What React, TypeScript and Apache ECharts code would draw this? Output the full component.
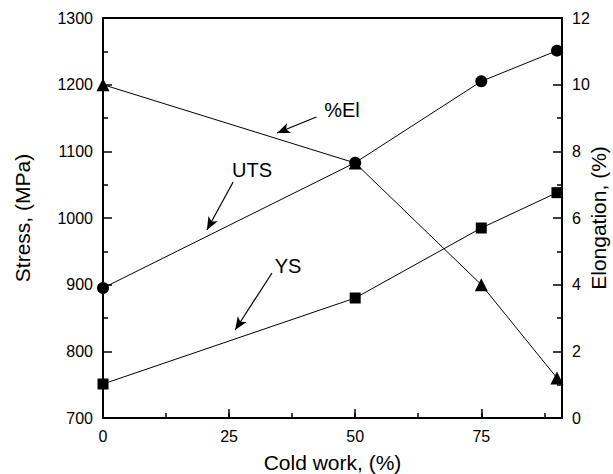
import React, { useEffect, useRef } from "react";
import * as echarts from "echarts";

const coldWork = [0, 50, 75, 90];
const utsValues = [895, 1083, 1205, 1251];
const ysValues = [751, 880, 985, 1038];
const elongationValues = [10, 7.65, 4, 1.2];

const xTicks = [0, 25, 50, 75];

const FONT = "'Liberation Sans', Arial, sans-serif";

export default function App() {
  const ref = useRef<HTMLDivElement>(null);
  useEffect(() => {
    if (!ref.current) return;
    const chart = echarts.init(ref.current, undefined, { renderer: "svg" });
    const pair = (vals: number[]) => coldWork.map((x, i) => [x, vals[i]]);
    const lineStyle = { color: "#000", width: 1 };
    const majorTick = { show: true, inside: true, length: 9, lineStyle: { color: "#000", width: 1.5 } };
    const minorTick = { show: true, splitNumber: 2, length: 5, lineStyle: { color: "#000", width: 1.5 } };
    const arrowLine = (a: number[], b: number[]) => [
      { coord: a, symbol: "none" },
      { coord: b, symbol: "arrow", symbolSize: [8, 13] },
    ];
    chart.setOption({
      animation: false,
      backgroundColor: "#fff",
      grid: {
        left: 103,
        right: 51,
        top: 18,
        bottom: 56,
        outerBoundsMode: "none",
        containLabel: false,
        show: true,
        borderColor: "#000",
        borderWidth: 2,
        backgroundColor: "transparent",
      },
      xAxis: [
        {
          type: "value",
          min: 0,
          max: 91,
          interval: 25,
          name: "Cold work, (%)",
          nameLocation: "middle",
          nameGap: 34,
          nameMoveOverlap: false,
          nameTextStyle: { fontFamily: FONT, fontSize: 21, color: "#000" },
          axisLine: { show: true, onZero: false, lineStyle: { color: "#000", width: 2 } },
          axisTick: majorTick,
          axisLabel: {
            fontFamily: FONT,
            fontSize: 16,
            color: "#000",
            margin: 10,
            showMaxLabel: false,
            formatter: (v: number) => (xTicks.includes(v) ? String(v) : ""),
          },
          splitLine: { show: false },
        },
        {
          type: "value",
          min: 0,
          max: 91,
          interval: 12.5,
          position: "bottom",
          axisLine: { show: false, onZero: false },
          axisTick: { show: true, inside: true, length: 5, lineStyle: { color: "#000", width: 1.5 } },
          axisLabel: { show: false },
          splitLine: { show: false },
        },
      ],
      yAxis: [
        {
          type: "value",
          min: 700,
          max: 1300,
          interval: 100,
          name: "Stress, (MPa)",
          nameLocation: "middle",
          nameGap: 70,
          nameMoveOverlap: false,
          nameTextStyle: { fontFamily: FONT, fontSize: 21, color: "#000" },
          axisLine: { show: true, onZero: false, lineStyle: { color: "#000", width: 2 } },
          axisTick: majorTick,
          minorTick,
          axisLabel: {
            fontFamily: FONT,
            fontSize: 16,
            color: "#000",
            margin: 10,
            formatter: (v: number) => String(v),
          },
          splitLine: { show: false },
          minorSplitLine: { show: false },
        },
        {
          type: "value",
          min: 0,
          max: 12,
          interval: 2,
          position: "right",
          name: "Elongation, (%)",
          nameLocation: "middle",
          nameGap: 26,
          nameMoveOverlap: false,
          nameRotate: 90,
          nameTextStyle: { fontFamily: FONT, fontSize: 21, color: "#000" },
          axisLine: { show: true, onZero: false, lineStyle: { color: "#000", width: 2 } },
          axisTick: majorTick,
          minorTick,
          axisLabel: {
            fontFamily: FONT,
            fontSize: 16,
            color: "#000",
            margin: 10,
            formatter: (v: number) => String(v),
          },
          splitLine: { show: false },
          minorSplitLine: { show: false },
        },
      ],
      series: [
        {
          name: "UTS",
          type: "line",
          yAxisIndex: 0,
          data: pair(utsValues),
          symbol: "circle",
          symbolSize: 12,
          itemStyle: { color: "#000" },
          lineStyle,
          z: 3,
          markLine: {
            silent: true,
            label: { show: false },
            lineStyle: { color: "#000", width: 1.2, type: "solid" },
            data: [
              arrowLine([42.3, 1151.5], [34.5, 1127.5]),
              arrowLine([25.8, 1054], [20.6, 982]),
              arrowLine([33.5, 917.5], [26.2, 832]),
            ],
          },
        },
        {
          name: "YS",
          type: "line",
          yAxisIndex: 0,
          data: pair(ysValues),
          symbol: "rect",
          symbolSize: 11,
          itemStyle: { color: "#000" },
          lineStyle,
          z: 3,
        },
        {
          name: "%El",
          type: "line",
          yAxisIndex: 1,
          data: pair(elongationValues),
          symbol: "triangle",
          symbolSize: 13,
          itemStyle: { color: "#000" },
          lineStyle,
          z: 3,
        },
      ],
      graphic: [
        { type: "text", x: 342, y: 110, style: { text: "%El", fontFamily: FONT, fontSize: 20, fill: "#000", align: "center", verticalAlign: "middle" } },
        { type: "text", x: 252, y: 170, style: { text: "UTS", fontFamily: FONT, fontSize: 20, fill: "#000", align: "center", verticalAlign: "middle" } },
        { type: "text", x: 288, y: 266, style: { text: "YS", fontFamily: FONT, fontSize: 20, fill: "#000", align: "center", verticalAlign: "middle" } },
      ],
    });
    return () => chart.dispose();
  }, []);
  return (
    <div
      ref={ref}
      style={{ position: "fixed", left: 0, top: 0, width: 613, height: 474 }}
    />
  );
}
